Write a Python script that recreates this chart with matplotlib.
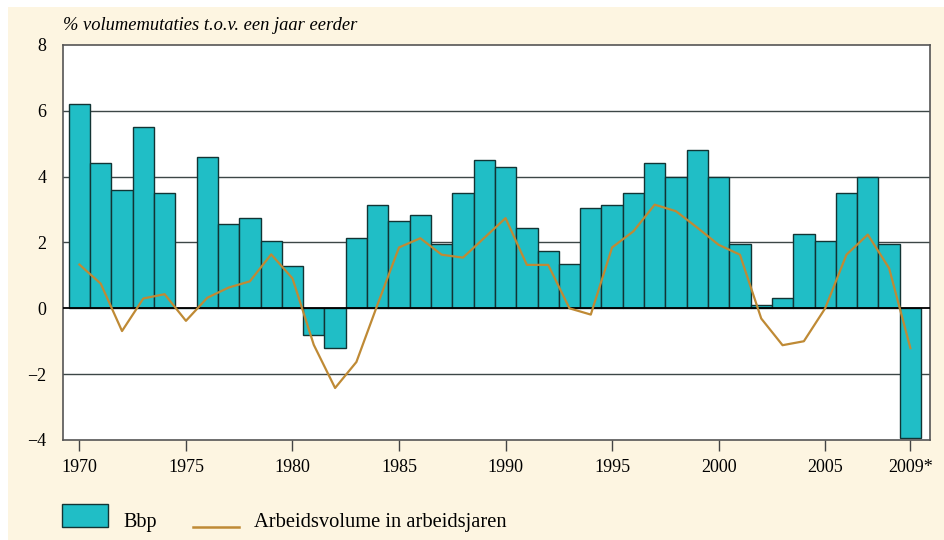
import matplotlib.pyplot as plt
import matplotlib.patches as mpatches
import matplotlib.lines as mlines
import numpy as np

plt.rcParams['font.family'] = ['Liberation Serif', 'DejaVu Serif']

years = list(range(1970, 2010))
bbp = [6.2, 4.4, 3.6, 5.5, 3.5, 0.0, 4.6, 2.55, 2.75, 2.05,
       1.3, -0.8, -1.2, 2.15, 3.15, 2.65, 2.85, 1.95, 3.5, 4.5,
       4.3, 2.45, 1.75, 1.35, 3.05, 3.15, 3.5, 4.4, 4.0, 4.8,
       4.0, 1.95, 0.1, 0.3, 2.25, 2.05, 3.5, 4.0, 1.95, -3.95]
arbeid = [1.33, 0.75, -0.69, 0.3, 0.43, -0.38, 0.32, 0.63, 0.82, 1.64,
          0.91, -1.11, -2.42, -1.63, 0.13, 1.85, 2.13, 1.63, 1.54, 2.14,
          2.74, 1.32, 1.32, 0.0, -0.19, 1.85, 2.34, 3.15, 2.95, 2.45,
          1.93, 1.63, -0.31, -1.12, -1.0, 0.0, 1.63, 2.24, 1.22, -1.21]
tick_years = [1970, 1975, 1980, 1985, 1990, 1995, 2000, 2005, 2009]
tick_labels = ['1970', '1975', '1980', '1985', '1990', '1995', '2000', '2005', '2009*']

cream = '#fdf5e1'
teal = '#20bec6'
brown = '#bf8a35'

fig = plt.figure(figsize=(9.45, 5.4), dpi=100, facecolor=cream)
# white strip at top and left edge as in the source page
fig.add_artist(mpatches.Rectangle((0, 1 - 7 / 540), 1, 7 / 540, transform=fig.transFigure,
                                  facecolor='white', edgecolor='none'))
fig.add_artist(mpatches.Rectangle((0, 0), 8 / 945, 1, transform=fig.transFigure,
                                  facecolor='white', edgecolor='none'))

ax = fig.add_axes([63 / 945, 100 / 540, 867 / 945, 395 / 540])
ax.set_facecolor('white')

for y in [-2, 2, 4, 6]:
    ax.axhline(y, color='#3c4646', lw=1.0, zorder=1)

ax.bar(years, bbp, width=1.0, color=teal, edgecolor='#123434', linewidth=1.0, zorder=2)
ax.axhline(0, color='black', lw=1.3, zorder=3)
ax.plot(years, arbeid, color=brown, lw=1.6, zorder=4)

ax.set_xlim(1969.23, 2009.92)
ax.set_ylim(-4, 8)
ax.set_yticks([-4, -2, 0, 2, 4, 6, 8])
ax.set_yticklabels(['\u22124', '\u22122', '0', '2', '4', '6', '8'])
ax.set_xticks(tick_years)
ax.set_xticklabels(tick_labels)
ax.tick_params(axis='y', length=0, pad=12, labelsize=13)
ax.tick_params(axis='x', direction='out', length=8, width=1.0, color='#444444', pad=6, labelsize=13)
for s in ax.spines.values():
    s.set_color('#555555')
    s.set_linewidth(1.2)

fig.text(63 / 945, 1 - 25 / 540, '% volumemutaties t.o.v. een jaar eerder', fontsize=13.3,
         style='italic', va='center', ha='left')

# legend
fig.add_artist(mpatches.Rectangle((62 / 945, 1 - 527 / 540), 46 / 945, 23 / 540,
                                  transform=fig.transFigure, facecolor=teal,
                                  edgecolor='#123434', linewidth=1.0))
fig.text(123 / 945, 1 - 527 / 540, 'Bbp', fontsize=14.5, va='baseline', ha='left')
fig.add_artist(mlines.Line2D([193 / 945, 239 / 945], [1 - 527 / 540, 1 - 527 / 540],
                             transform=fig.transFigure, color=brown, lw=1.8))
fig.text(254 / 945, 1 - 527 / 540, 'Arbeidsvolume in arbeidsjaren', fontsize=14.8,
         va='baseline', ha='left')

fig.savefig('out.png', dpi=100, facecolor=cream)
